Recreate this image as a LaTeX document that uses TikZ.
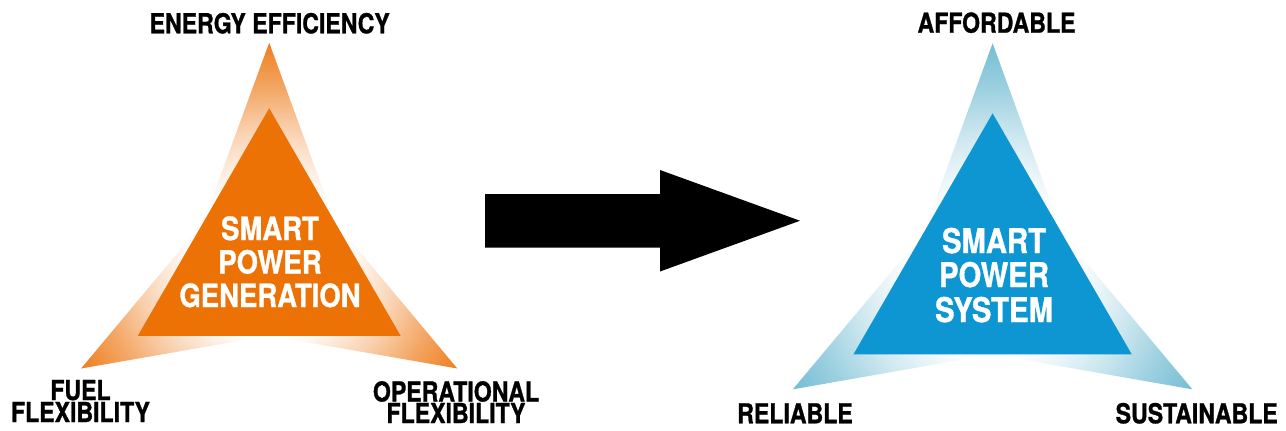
\documentclass[tikz,border=0pt]{standalone}
\usepackage{fontspec}
\usetikzlibrary{calc}
\newfontfamily\cnd{TeX Gyre Heros}[FakeStretch=0.84, FakeBold=1]
\newfontfamily\cndw{TeX Gyre Heros}[FakeStretch=0.86, FakeBold=1]

\definecolor{genorange}{HTML}{EC7206}
\definecolor{tiporange}{HTML}{EE7E1E}
\definecolor{sysblue}{HTML}{0E96D2}
\definecolor{tipblue}{HTML}{74BDD3}
\colorlet{orangeA}{tiporange!35!white}
\colorlet{orangeB}{tiporange!70!white}
\colorlet{blueA}{tipblue!35!white}
\colorlet{blueB}{tipblue!70!white}

% fades from white near the centre to the tip colour at the star points;
% 25bp is the radius of the shaded circle
\pgfdeclareradialshading{orangefade}{\pgfpoint{0bp}{0bp}}{%
  color(0bp)=(white); color(9bp)=(white); color(15bp)=(orangeA);
  color(20bp)=(orangeB); color(25bp)=(tiporange); color(50bp)=(tiporange)}
\pgfdeclareradialshading{bluefade}{\pgfpoint{0bp}{0bp}}{%
  color(0bp)=(white); color(9bp)=(white); color(15bp)=(blueA);
  color(20bp)=(blueB); color(25bp)=(tipblue); color(50bp)=(tipblue)}

% #1 centre, #2 outer radius, #3 inner radius, #4 shading, #5 fill colour
\newcommand\smarttri[5]{%
  \begin{scope}[shift={#1}]
    \begin{scope}
      \clip (-90:#2) -- (-30:{0.5*#3}) -- (30:#2) -- (90:{0.5*#3})
            -- (150:#2) -- (210:{0.5*#3}) -- cycle;
      \shade[shading=#4] (0,0) circle [radius=#2];
    \end{scope}
    \fill[#5] (-90:#3) -- (30:#3) -- (150:#3) -- cycle;
  \end{scope}}

\tikzset{
  lbl/.style={font=\cnd\bfseries\fontsize{27.5}{29}\selectfont, inner sep=0pt,
              anchor=base, text=black},
  inlbl/.style={font=\cndw\bfseries\fontsize{#1}{#1}\selectfont, inner sep=0pt,
                anchor=base, text=white},
  inlbl/.default=32
}

\begin{document}
\begin{tikzpicture}[x=1pt,y=-1pt]
  \useasboundingbox (0,0) rectangle (1286,431);

  % left triangle: smart power generation
  \smarttri{(269.2,259.9)}{217.2}{151.7}{orangefade}{genorange}
  % right triangle: smart power system
  \smarttri{(992.6,274)}{230.7}{160.7}{bluefade}{sysblue}

  % block arrow between the two triangles
  \coordinate (tail) at (485,220.75);
  \coordinate (tip) at (800,220.75);
  \fill[black] ($(tail)+(0,-26.75)$) -- (660,194) -- (660,170) -- (tip)
    -- (660,271.5) -- (660,247.5) -- ($(tail)+(0,26.75)$) -- cycle;

  % centre texts
  \node[inlbl] (g1) at (270,240) {SMART};
  \node[inlbl] (g2) at (270,273.5) {POWER};
  \node[inlbl] (g3) at (270,307) {GENERATION};
  \node[inlbl=34] (s1) at (994,253) {SMART};
  \node[inlbl=34] (s2) at (994,287) {POWER};
  \node[inlbl=34] (s3) at (994,322) {SYSTEM};

  % corner labels
  \node[lbl] (ee) at (269.7,33.3) {ENERGY EFFICIENCY};
  \node[lbl] (ff1) at (80.5,400) {FUEL};
  \node[lbl] (ff2) at (80.5,422) {FLEXIBILITY};
  \node[lbl] (of1) at (456,401.5) {OPERATIONAL};
  \node[lbl] (of2) at (456,423) {FLEXIBILITY};
  \node[lbl] (af) at (996.5,32.7) {AFFORDABLE};
  \node[lbl] (re) at (795,423.3) {RELIABLE};
  \node[lbl] (su) at (1196.7,423.3) {SUSTAINABLE};
\end{tikzpicture}
\end{document}
